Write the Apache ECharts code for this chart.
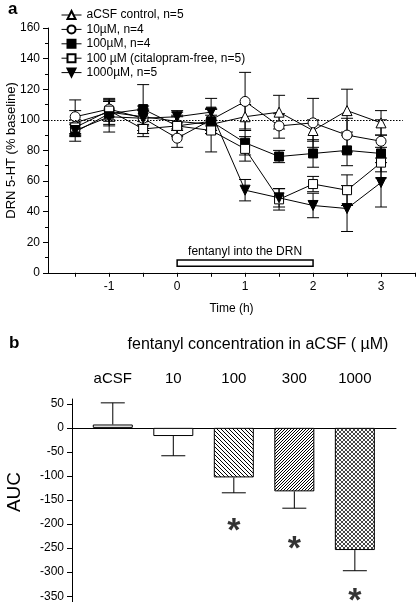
<!DOCTYPE html>
<html><head><meta charset="utf-8">
<script src="https://cdn.jsdelivr.net/npm/echarts@6/dist/echarts.min.js"></script>
<style>html,body{margin:0;padding:0;background:#fff}#c{width:416px;height:602px}</style>
</head><body><div id="c"></div>
<script>
// ---- Panel a data ----
var times = [-1.5, -1, -0.5, 0, 0.5, 1, 1.5, 2, 2.5, 3];
var xTickLabels = [-1, 0, 1, 2, 3];
var acsfVals = [98, 105, 102, 99, 97, 102, 105, 93, 106, 98];
var acsfErr  = [8, 8, 5, 6, 6, 8, 11, 7, 14, 8];
var c10Vals  = [102, 107, 101, 88, 100, 112, 96, 98, 90, 86];
var c10Err   = [11, 7, 8, 6, 7, 19, 8, 16, 11, 14];
var c100Vals = [92, 104, 107, 96, 99, 85, 76, 78, 80, 78];
var c100Err  = [6, 8, 16, 7, 8, 8, 4, 9, 10, 12];
var cfreeVals = [95, 106, 94, 96, 93, 81, 48, 58, 54, 72];
var cfreeErr  = [5, 7, 5, 6, 14, 8, 7, 5, 10, 10];
var c1000Vals = [93, 102, 101, 102, 105, 54, 49, 44, 42, 59];
var c1000Err  = [4, 10, 5, 4, 9, 7, 6, 8, 15, 16];
var seriesNames = ['aCSF control, n=5', '10\u00b5M, n=4', '100\u00b5M, n=4', '100 \u00b5M (citalopram-free, n=5)', '1000\u00b5M, n=5'];
var baselineValue = 100;
var infusionStart = 0, infusionEnd = 2;

// ---- Panel b data ----
var concCategories = ['aCSF', '10', '100', '300', '1000'];
var aucVals = [7, -17, -103, -132, -254];
var aucErr  = [45, 41, 32, 35, 43];
var sigCategoryIdx = [2, 3, 4];
var sigMarkY = [-200, -237, -345];

var FONT = 'Liberation Sans, Arial, sans-serif';

function mkPattern(kind) {
  var s = kind === 'back' ? 4 : (kind === 'fwd' ? 3 : 4);
  var cv = document.createElement('canvas');
  cv.width = s; cv.height = s;
  var g = cv.getContext('2d');
  g.fillStyle = '#fff'; g.fillRect(0, 0, s, s);
  g.strokeStyle = kind === 'cross' ? '#333' : '#000'; g.lineWidth = kind === 'cross' ? 0.9 : 1;
  function back() { g.beginPath(); g.moveTo(-1, -1); g.lineTo(s + 1, s + 1); g.stroke(); }
  function fwd() { g.beginPath(); g.moveTo(-1, s + 1); g.lineTo(s + 1, -1); g.stroke(); }
  if (kind === 'back') back();
  else if (kind === 'fwd') fwd();
  else { back(); fwd(); }
  return { image: cv, repeat: 'repeat' };
}
var barFills = ['#fff', '#fff', mkPattern('back'), mkPattern('fwd'), mkPattern('cross')];

function zip(xs, ys) { return xs.map(function (x, i) { return [x, ys[i]]; }); }
function zip3(xs, ys, es) { return xs.map(function (x, i) { return [x, ys[i], es[i]]; }); }

function errRender(params, api) {
  var x = api.value(0), y = api.value(1), e = api.value(2);
  var hi = api.coord([x, y + e]), lo = api.coord([x, y - e]);
  var w = 6;
  var st = { stroke: '#000', lineWidth: 1 };
  return { type: 'group', children: [
    { type: 'line', shape: { x1: hi[0], y1: hi[1], x2: lo[0], y2: lo[1] }, style: st },
    { type: 'line', shape: { x1: hi[0] - w, y1: hi[1], x2: hi[0] + w, y2: hi[1] }, style: st },
    { type: 'line', shape: { x1: lo[0] - w, y1: lo[1], x2: lo[0] + w, y2: lo[1] }, style: st }
  ]};
}
function barErrRender(params, api) {
  var x = api.value(0), y = api.value(1), e = api.value(2);
  var tip = y >= 0 ? y + e : y - e;
  var a = api.coord([x, y]), b = api.coord([x, tip]);
  var w = 12;
  var st = { stroke: '#000', lineWidth: 1 };
  return { type: 'group', children: [
    { type: 'line', shape: { x1: a[0], y1: a[1], x2: b[0], y2: b[1] }, style: st },
    { type: 'line', shape: { x1: b[0] - w, y1: b[1], x2: b[0] + w, y2: b[1] }, style: st }
  ]};
}

var invTri = 'path://M0,0 L10,0 L5,9 Z';
var lineDefs = [
  { vals: acsfVals, err: acsfErr, symbol: 'triangle', fill: '#fff', size: 10 },
  { vals: c10Vals, err: c10Err, symbol: 'circle', fill: '#fff', size: 10 },
  { vals: c100Vals, err: c100Err, symbol: 'rect', fill: '#000', size: 9 },
  { vals: cfreeVals, err: cfreeErr, symbol: 'rect', fill: '#fff', size: 9 },
  { vals: c1000Vals, err: c1000Err, symbol: invTri, fill: '#000', size: 10 }
];

var series = [];
lineDefs.forEach(function (d, i) {
  series.push({
    type: 'custom', xAxisIndex: 0, yAxisIndex: 0, renderItem: errRender,
    data: zip3(times, d.vals, d.err), z: 2, silent: true
  });
});
lineDefs.forEach(function (d, i) {
  var s = {
    type: 'line', name: seriesNames[i], xAxisIndex: 0, yAxisIndex: 0,
    data: zip(times, d.vals), symbol: d.symbol, symbolSize: d.size, showAllSymbol: true,
    lineStyle: { color: '#000', width: 1 },
    itemStyle: { color: d.fill, borderColor: '#000', borderWidth: 1 },
    z: 3 + i, animation: false
  };
  if (i === 0) {
    s.markLine = { silent: true, symbol: 'none', label: { show: false },
      lineStyle: { color: '#000', type: [1.5, 1.5], width: 1 },
      data: [[{ coord: [-1.9, baselineValue] }, { coord: [3.32, baselineValue] }]] };
    s.markArea = { silent: true,
      itemStyle: { color: '#fff', borderColor: '#000', borderWidth: 1.5 },
      label: { show: true, position: 'top', distance: 2, color: '#000', fontFamily: FONT, fontSize: 12 },
      data: [[{ name: 'fentanyl into the DRN', coord: [infusionStart, 4.3] }, { coord: [infusionEnd, 8.4] }]] };
  }
  series.push(s);
});

// panel b bars
series.push({
  type: 'bar', xAxisIndex: 1, yAxisIndex: 1, barWidth: 40,
  data: aucVals.map(function (v, i) {
    return { value: [i, v], itemStyle: { color: barFills[i], borderColor: '#000', borderWidth: 1 } };
  }), z: 2, animation: false
});
series.push({
  type: 'custom', xAxisIndex: 1, yAxisIndex: 1, renderItem: barErrRender,
  data: zip3(concCategories.map(function (c, i) { return i; }), aucVals, aucErr), z: 3, silent: true
});
series.push({
  type: 'scatter', xAxisIndex: 1, yAxisIndex: 1, symbol: 'circle', symbolSize: 2,
  itemStyle: { color: 'rgba(0,0,0,0)' },
  data: zip(sigCategoryIdx, sigMarkY),
  label: { show: true, position: 'inside', formatter: '*', color: '#000', fontSize: 34, fontWeight: 'bold', fontFamily: FONT, offset: [0, 8] },
  z: 4, silent: true
});

var axisLbl = { color: '#000', fontFamily: FONT, fontSize: 12 };
var option = {
  backgroundColor: '#fff',
  animation: false,
  textStyle: { fontFamily: FONT },
  legend: {
    orient: 'vertical', left: 61, top: 9, padding: 0, itemGap: 2.4, itemWidth: 20, itemHeight: 10,
    lineStyle: { width: 1 },
    textStyle: { color: '#000', fontSize: 12, fontFamily: FONT, lineHeight: 12 },
    data: seriesNames
  },
  grid: [
    { left: 48, right: 1, top: 28, bottom: 329.2, containLabel: false, outerBoundsMode: 'none' },
    { left: 72, right: 20, top: 399, bottom: 0, containLabel: false, outerBoundsMode: 'none' }
  ],
  xAxis: [
    { type: 'value', gridIndex: 0, min: -1.9, max: 3.5,
      axisLine: { onZero: false, lineStyle: { color: '#000', width: 1 } },
      axisTick: { show: true, length: 4, lineStyle: { color: '#000' }, customValues: [-1.5, -1, -0.5, 0, 0.5, 1, 1.5, 2, 2.5, 3, 3.5] },
      axisLabel: Object.assign({ customValues: xTickLabels, margin: 8 }, axisLbl),
      splitLine: { show: false },
      name: 'Time (h)', nameLocation: 'middle', nameGap: 30, nameMoveOverlap: false,
      nameTextStyle: { color: '#000', fontSize: 12, fontFamily: FONT } },
    { type: 'value', gridIndex: 1, min: -0.674, max: 4.68, position: 'bottom',
      axisLine: { onZero: true, lineStyle: { color: '#000', width: 1 } },
      axisTick: { show: false }, axisLabel: { show: false }, splitLine: { show: false } },
    { type: 'value', gridIndex: 1, min: -0.674, max: 4.68, position: 'top',
      axisLine: { show: false, onZero: false }, axisTick: { show: false }, splitLine: { show: false },
      axisLabel: { customValues: [0, 1, 2, 3, 4], margin: 13, color: '#000', fontSize: 15, fontFamily: FONT,
        formatter: function (v) { return concCategories[Math.round(v)]; } } }
  ],
  yAxis: [
    { type: 'value', gridIndex: 0, min: 0, max: 160, interval: 20, position: 'left',
      axisLine: { show: true, onZero: false, lineStyle: { color: '#000', width: 1 } },
      axisTick: { show: true, length: 5, lineStyle: { color: '#000' } },
      minorTick: { show: true, splitNumber: 2, length: 3, lineStyle: { color: '#000' } },
      axisLabel: Object.assign({ margin: 8 }, axisLbl),
      splitLine: { show: false },
      name: 'DRN 5-HT (% baseline)', nameLocation: 'middle', nameGap: 30, nameMoveOverlap: false,
      nameTextStyle: { color: '#000', fontSize: 13, fontFamily: FONT } },
    { type: 'value', gridIndex: 1, min: -362, max: 60, interval: 50, position: 'left',
      axisLine: { show: true, onZero: false, lineStyle: { color: '#000', width: 1 } },
      axisTick: { show: true, length: 5, lineStyle: { color: '#000' }, customValues: [-350, -300, -250, -200, -150, -100, -50, 0, 50] },
      axisLabel: Object.assign({ margin: 8, customValues: [-350, -300, -250, -200, -150, -100, -50, 0, 50] }, axisLbl),
      splitLine: { show: false } }
  ],
  graphic: [
    { type: 'text', left: 8, top: 1, style: { text: 'a', font: 'bold 17px ' + FONT, fill: '#000' } },
    { type: 'text', left: 9, top: 335, style: { text: 'b', font: 'bold 17px ' + FONT, fill: '#000' } },
    { type: 'text', x: 258, y: 345, style: { text: 'fentanyl concentration in aCSF ( \u00b5M)', font: '16px ' + FONT, fill: '#000', align: 'center', verticalAlign: 'middle' } },
    { type: 'text', x: 15, y: 492, rotation: Math.PI / 2, style: { text: 'AUC', font: '19px ' + FONT, fill: '#000', align: 'center', verticalAlign: 'middle' } }
  ],
  series: series
};
var chart = echarts.init(document.getElementById('c'), null, { renderer: 'canvas' });
chart.setOption(option);
</script></body></html>
